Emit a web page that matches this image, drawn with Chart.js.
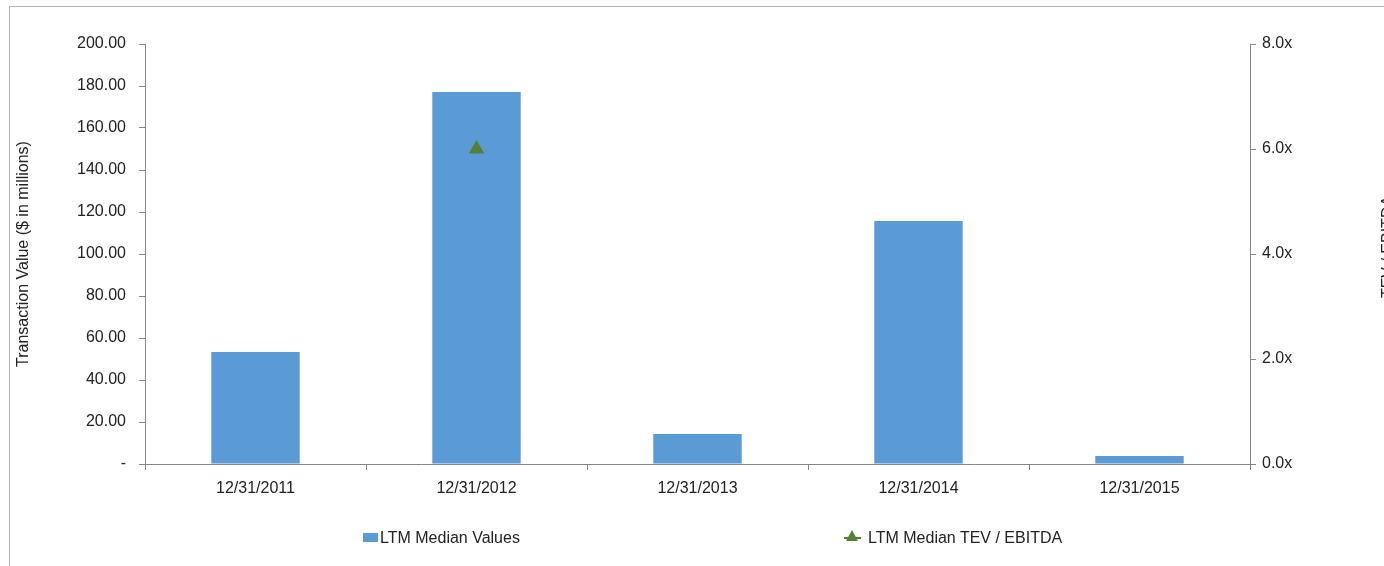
<!DOCTYPE html>
<html>
<head>
<meta charset="utf-8">
<script src="https://cdn.jsdelivr.net/npm/chart.js@4/dist/chart.umd.min.js"></script>
<style>
  body { margin: 0; background: #fff; overflow: hidden; }
  #wrap { position: relative; width: 1384px; height: 566px; }
  #frame { position: absolute; left: 9px; top: 6px; right: -5px; bottom: -5px;
           border-top: 1px solid #b4b4b4; border-left: 1px solid #b4b4b4; }
  #legend { position: absolute; top: 528px; left: 0; width: 1384px; height: 20px;
            font: 16px "Liberation Sans Narrow", "Arial Narrow", "Liberation Sans", sans-serif; color: #222; }
  .item { position: absolute; top: 0; line-height: 20px; white-space: nowrap; }
  .box { display: inline-block; width: 15px; height: 9px; vertical-align: middle; margin-right: 2px; margin-top: -2px; }
  .ln { display: inline-block; position: relative; width: 17px; height: 2px; vertical-align: middle; margin-right: 7px; margin-top: -2px; }
  .ln span { position: absolute; left: 2px; top: -7px; width: 0; height: 0;
             border-left: 6px solid transparent; border-right: 6px solid transparent; border-bottom: 11px solid; }
</style>
</head>
<body>
<div id="wrap">
  <div id="frame"></div>
  <canvas id="grafica"></canvas>
  <div id="legend"></div>
</div>
<script>
const fechas = ["12/31/2011", "12/31/2012", "12/31/2013", "12/31/2014", "12/31/2015"]
const valoresMedianos = [53.3, 177.1, 14.3, 115.7, 3.8]
const tevEbitda = [null, 6.0, null, null, null]
const nombreBarras = "LTM Median Values"
const nombreLinea = "LTM Median TEV / EBITDA"
const tituloIzq = "Transaction Value ($ in millions)"
const tituloDer = "TEV / EBITDA"

const azul = "#5b9bd5"
const verde = "#548235"
const gris = "#868686"
const fuente = '"Liberation Sans Narrow", "Arial Narrow", "Liberation Sans", sans-serif'

// titulo del eje derecho, leido de abajo hacia arriba como en Excel
const tituloDerecho = {
    id: "tituloDerecho",
    afterDraw(chart) {
        const c = chart.ctx
        c.save()
        c.translate(1389, 247)
        c.rotate(-Math.PI / 2)
        c.font = "16px " + fuente
        c.fillStyle = "#222"
        c.textAlign = "center"
        c.textBaseline = "middle"
        c.fillText(tituloDer, 0, 0)
        c.restore()
    }
}

const ctx = document.getElementById("grafica").getContext("2d")
new Chart(ctx, {
    type: "bar",
    data: {
        labels: fechas,
        datasets: [
            {
                type: "line",
                label: nombreLinea,
                data: tevEbitda,
                yAxisID: "y1",
                borderColor: verde,
                backgroundColor: verde,
                pointStyle: "triangle",
                pointRadius: 7,
                pointHoverRadius: 7,
                borderWidth: 2,
                order: 0
            },
            {
                label: nombreBarras,
                data: valoresMedianos,
                yAxisID: "y",
                backgroundColor: azul,
                barPercentage: 0.4,
                categoryPercentage: 1,
                order: 1
            }
        ]
    },
    options: {
        responsive: true,
        maintainAspectRatio: false,
        animation: false,
        layout: { padding: { left: 0, right: 0, top: 44, bottom: 0 } },
        plugins: {
            legend: { display: false },
            tooltip: { enabled: false }
        },
        scales: {
            x: {
                grid: { drawOnChartArea: false, drawTicks: true, tickLength: 6, color: gris },
                border: { color: gris },
                ticks: { color: "#222", font: { family: fuente, size: 16 }, padding: 9, maxRotation: 0 },
                afterFit(scale) { scale.height = 102 }
            },
            y: {
                position: "left",
                min: 0,
                max: 200,
                grid: { drawOnChartArea: false, drawTicks: true, tickLength: 6, color: gris },
                border: { color: gris },
                ticks: {
                    stepSize: 20,
                    color: "#222",
                    font: { family: fuente, size: 16 },
                    padding: 13,
                    callback: v => v === 0 ? "-" : v.toFixed(2)
                },
                title: {
                    display: true,
                    text: tituloIzq,
                    color: "#222",
                    font: { family: fuente, size: 16 },
                    padding: { top: 14, bottom: 0 }
                },
                afterFit(scale) { scale.width = 145 }
            },
            y1: {
                position: "right",
                min: 0,
                max: 8,
                grid: { drawOnChartArea: false, drawTicks: true, tickLength: 6, color: gris },
                border: { color: gris },
                ticks: {
                    stepSize: 2,
                    color: "#222",
                    font: { family: fuente, size: 16 },
                    padding: 6,
                    callback: v => v.toFixed(1) + "x"
                },
                afterFit(scale) { scale.width = 134 }
            }
        }
    },
    plugins: [tituloDerecho]
})

const legend = document.getElementById("legend")
legend.innerHTML = `
    <div class="item" style="left:363px"><span class="box" style="background:${azul}"></span>${nombreBarras}</div>
    <div class="item" style="left:844px"><span class="ln" style="background:${verde}"><span style="border-bottom-color:${verde}"></span></span>${nombreLinea}</div>
`
</script>
</body>
</html>
